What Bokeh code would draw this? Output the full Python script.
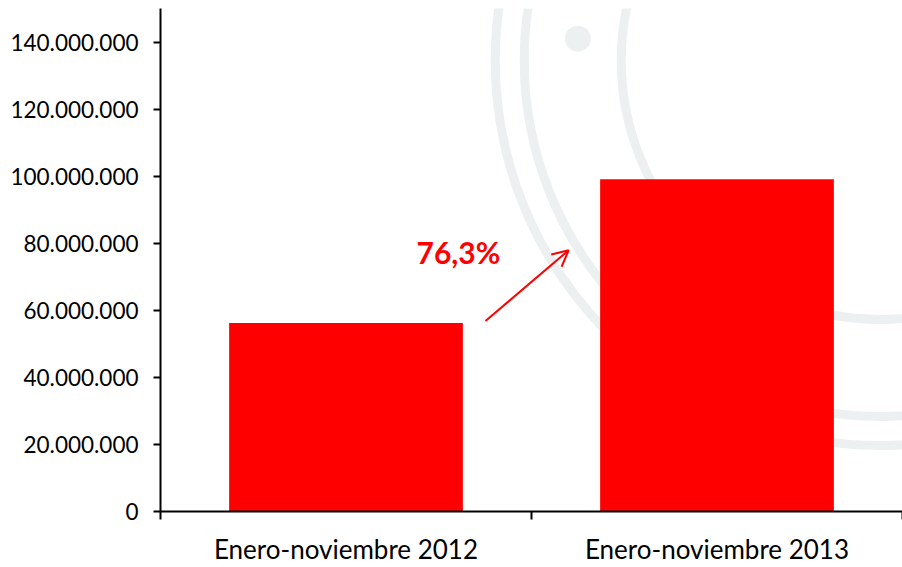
from bokeh.plotting import figure
from bokeh.models import FixedTicker, Range1d, Arrow, OpenHead
from bokeh.core.properties import value
from bokeh.embed import file_html
from bokeh.resources import INLINE

# ---- data ----
categories = ["Enero-noviembre 2012", "Enero-noviembre 2013"]
cat_pos = [0.5, 1.5]
values = [56_200_000, 99_100_000]
y_ticks = [0, 20_000_000, 40_000_000, 60_000_000, 80_000_000, 100_000_000, 120_000_000, 140_000_000]
y_tick_labels = ["0", "20.000.000", "40.000.000", "60.000.000", "80.000.000",
                 "100.000.000", "120.000.000", "140.000.000"]
cat_bounds = [0, 1, 2]

FONT = "Lato"
RED = "#FF0000"

p = figure(width=902, height=567, output_backend="svg", toolbar_location=None,
           x_range=Range1d(0, 2), y_range=Range1d(0, 150_000_000),
           min_border_left=160, min_border_right=0, min_border_top=8, min_border_bottom=55)
p.outline_line_color = None
p.xgrid.visible = False
p.ygrid.visible = False
p.background_fill_color = "white"

# faint watermark rings (decorative)
wm = "#EDF0F1"
for r in [385, 356, 259]:
    p.circle(x=[1.94], y=[134_500_000], radius=r, radius_units="screen",
             fill_color=None, line_color=wm, line_width=9)
p.circle(x=[1.125], y=[141_000_000], radius=13, radius_units="screen",
         fill_color=wm, line_color=None)

# bars
p.vbar(x=cat_pos, top=values, width=0.63, fill_color=RED, line_color=None)

# growth annotation
growth = (values[1] / values[0] - 1) * 100
growth_label = f"{growth:.1f}%".replace(".", ",")
p.text(x=[0.803], y=[77_300_000], text=[growth_label], text_font=value(FONT),
       text_font_style="bold", text_font_size="30px", text_color=RED,
       text_align="center", text_baseline="middle")
p.add_layout(Arrow(x_start=0.876, y_start=56_800_000, x_end=1.10, y_end=77_900_000,
                   line_color=RED, line_width=2,
                   end=OpenHead(size=16, line_color=RED, line_width=2)))

# y axis
yax = p.yaxis[0]
yax.ticker = FixedTicker(ticks=y_ticks)
yax.major_label_overrides = {t: l for t, l in zip(y_ticks, y_tick_labels)}
yax.axis_line_width = 2
yax.axis_line_color = "black"
yax.major_tick_out = 7
yax.major_tick_in = 0
yax.major_tick_line_width = 2
yax.minor_tick_line_color = None
yax.major_label_text_font = FONT
yax.major_label_text_font_size = "22.5px"
yax.major_label_text_color = "black"
yax.major_label_standoff = 15

# x axis
xax = p.xaxis[0]
xax.ticker = FixedTicker(ticks=cat_pos, minor_ticks=cat_bounds)
xax.major_label_overrides = {t: l for t, l in zip(cat_pos, categories)}
xax.axis_line_width = 2
xax.axis_line_color = "black"
xax.major_tick_line_color = None
xax.major_tick_out = 0
xax.major_tick_in = 0
xax.minor_tick_out = 8
xax.minor_tick_in = 0
xax.minor_tick_line_width = 2
xax.minor_tick_line_color = "black"
xax.major_label_text_font = FONT
xax.major_label_text_font_size = "26px"
xax.major_label_text_color = "black"
xax.major_label_standoff = 13

open("out.html", "w").write(file_html(p, INLINE))
